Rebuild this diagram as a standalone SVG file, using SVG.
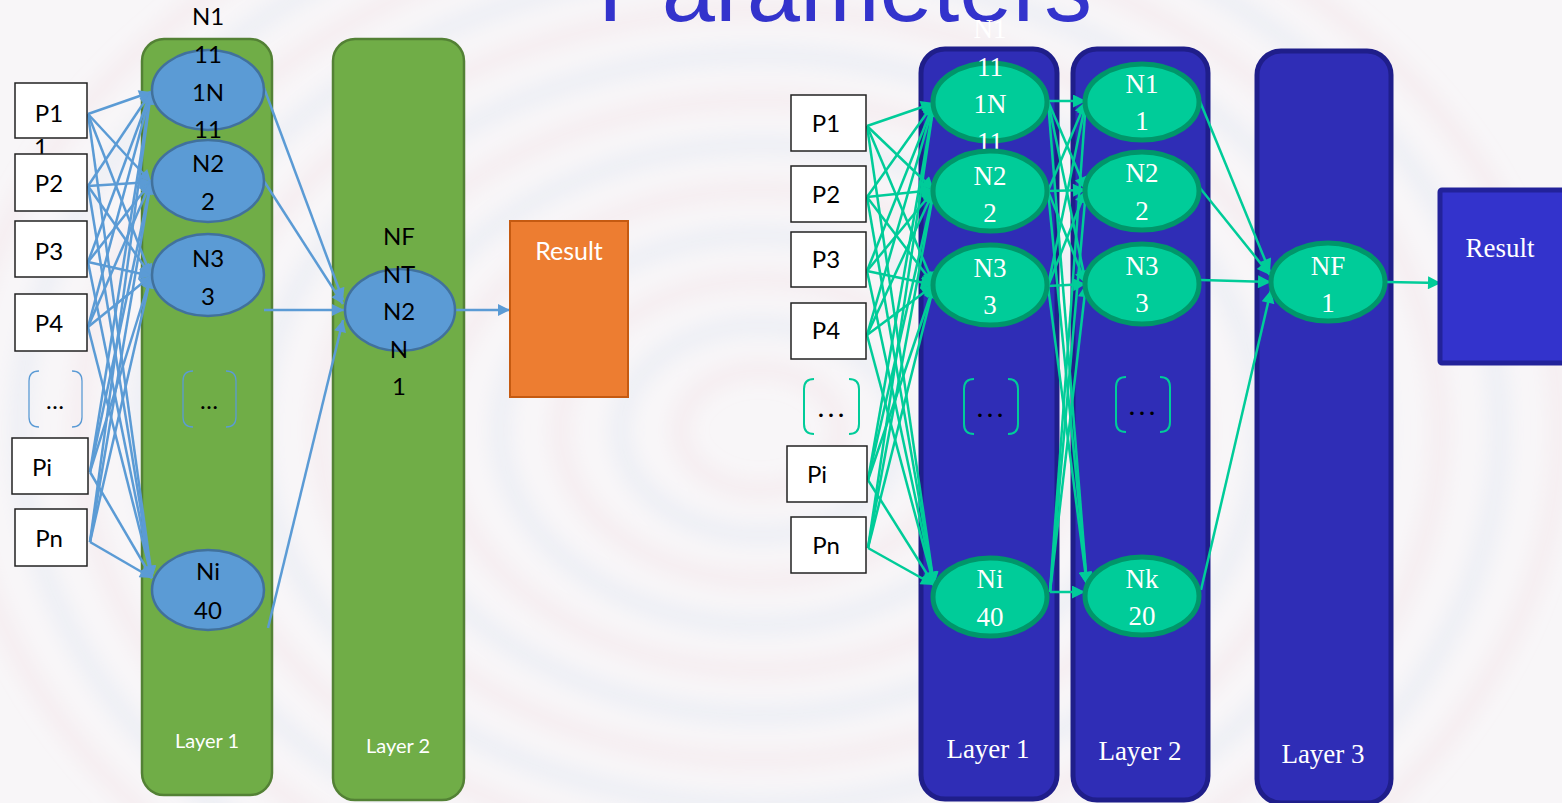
<svg xmlns="http://www.w3.org/2000/svg" width="1562" height="803" viewBox="0 0 1562 803">
<defs>
<filter id="blur" x="-10%" y="-10%" width="120%" height="120%"><feGaussianBlur stdDeviation="10"/></filter>
<marker id="ab" viewBox="0 0 10 10" refX="10" refY="5" markerWidth="15" markerHeight="12" markerUnits="userSpaceOnUse" orient="auto"><path d="M0,0 L10,5 L0,10 z" fill="#5B9BD5"/></marker>
<marker id="ag" viewBox="0 0 10 10" refX="10" refY="5" markerWidth="16" markerHeight="13" markerUnits="userSpaceOnUse" orient="auto"><path d="M0,0 L10,5 L0,10 z" fill="#00CC99"/></marker>
<style>
.gl{fill:#70AD47;stroke:#538135;stroke-width:2.5}
.bl{fill:#2F2DB6;stroke:#1F1E8A;stroke-width:5}
.be{fill:#5B9BD5;stroke:#41719C;stroke-width:2.5}
.ge{fill:#00CC99;stroke:#00966A;stroke-width:5}
.pb{fill:#FFFFFF;stroke:#222222;stroke-width:1.5}
.cb{stroke:#5B9BD5;stroke-width:2.5;fill:none;marker-end:url(#ab)}
.cg{stroke:#00CC99;stroke-width:2.5;fill:none;marker-end:url(#ag)}
.brb{fill:none;stroke:#5B9BD5;stroke-width:1.3}
.brg{fill:none;stroke:#00CC99;stroke-width:2}
.ts{font-family:Lato,"Open Sans","Liberation Sans",sans-serif;font-size:24px;fill:#000;text-anchor:middle}
.tsw{font-family:Lato,"Open Sans","Liberation Sans",sans-serif;fill:#FFFFFF;text-anchor:middle}
.tr{font-family:"Liberation Serif","DejaVu Serif",serif;font-size:27px;fill:#FFFFFF;text-anchor:middle}
.dots{font-family:"Liberation Serif",serif;font-size:30px;fill:#000;text-anchor:middle}
.ring1{fill:none;stroke:#E9C3CE;stroke-width:16;opacity:0.22}
.ring2{fill:none;stroke:#C6D5EA;stroke-width:16;opacity:0.28}
</style>
</defs>
<rect x="0" y="0" width="1562" height="803" fill="#F8F6F8"/>
<g id="background" filter="url(#blur)">
<ellipse class="ring1" cx="760" cy="430" rx="80" ry="60"/>
<ellipse class="ring2" cx="760" cy="430" rx="140" ry="105"/>
<ellipse class="ring1" cx="760" cy="430" rx="200" ry="150"/>
<ellipse class="ring2" cx="760" cy="430" rx="260" ry="195"/>
<ellipse class="ring1" cx="760" cy="430" rx="320" ry="240"/>
<ellipse class="ring2" cx="760" cy="430" rx="380" ry="285"/>
<ellipse class="ring1" cx="760" cy="430" rx="440" ry="330"/>
<ellipse class="ring2" cx="760" cy="430" rx="500" ry="375"/>
<ellipse class="ring1" cx="760" cy="430" rx="560" ry="420"/>
<ellipse class="ring2" cx="760" cy="430" rx="620" ry="465"/>
<ellipse class="ring1" cx="760" cy="430" rx="680" ry="510"/>
<ellipse class="ring2" cx="760" cy="430" rx="740" ry="555"/>
<ellipse class="ring1" cx="760" cy="430" rx="800" ry="600"/>
</g>
<g id="title">
<text x="598" y="21" font-family="Liberation Sans, Arial, sans-serif" font-size="96" fill="#3333CC" textLength="494" lengthAdjust="spacingAndGlyphs">Parameters</text>
</g>

<!-- Left layers -->
<g id="left-layer1"><rect class="gl" x="142" y="39" width="130" height="756" rx="22"/><text class="tsw" x="207" y="748" font-size="20">Layer 1</text></g>
<g id="left-layer2"><rect class="gl" x="333" y="39" width="131" height="761" rx="22"/><text class="tsw" x="398" y="753" font-size="20">Layer 2</text></g>

<!-- Right layers -->
<g id="right-layer1"><rect class="bl" x="921" y="49" width="136" height="750" rx="24"/><text class="tr" x="988" y="758" font-size="26">Layer 1</text></g>
<g id="right-layer2"><rect class="bl" x="1073" y="49" width="135" height="751" rx="24"/><text class="tr" x="1140" y="760" font-size="26">Layer 2</text></g>
<g id="right-layer3"><rect class="bl" x="1257" y="51" width="134" height="752" rx="24"/><text class="tr" x="1323" y="763" font-size="26">Layer 3</text></g>

<g id="connectors">
<!-- left inputs -->
<line class="cb" x1="88" y1="114" x2="151" y2="92"/><line class="cb" x1="88" y1="114" x2="151" y2="182"/><line class="cb" x1="88" y1="114" x2="151" y2="276"/><line class="cb" x1="88" y1="114" x2="152" y2="578"/>
<line class="cb" x1="88" y1="186" x2="151" y2="92"/><line class="cb" x1="88" y1="186" x2="151" y2="182"/><line class="cb" x1="88" y1="186" x2="151" y2="276"/><line class="cb" x1="88" y1="186" x2="152" y2="578"/>
<line class="cb" x1="88" y1="262" x2="151" y2="92"/><line class="cb" x1="88" y1="262" x2="151" y2="182"/><line class="cb" x1="88" y1="262" x2="151" y2="276"/><line class="cb" x1="88" y1="262" x2="152" y2="578"/>
<line class="cb" x1="88" y1="327" x2="151" y2="92"/><line class="cb" x1="88" y1="327" x2="151" y2="182"/><line class="cb" x1="88" y1="327" x2="151" y2="276"/><line class="cb" x1="88" y1="327" x2="152" y2="578"/>
<line class="cb" x1="90" y1="472" x2="151" y2="92"/><line class="cb" x1="90" y1="472" x2="151" y2="182"/><line class="cb" x1="90" y1="472" x2="151" y2="276"/><line class="cb" x1="90" y1="472" x2="152" y2="578"/>
<line class="cb" x1="90" y1="542" x2="151" y2="92"/><line class="cb" x1="90" y1="542" x2="151" y2="182"/><line class="cb" x1="90" y1="542" x2="151" y2="276"/><line class="cb" x1="90" y1="542" x2="152" y2="578"/>
<!-- left layer1 to layer2 -->
<line class="cb" x1="264" y1="88" x2="343" y2="300"/>
<line class="cb" x1="262" y1="178" x2="343" y2="304"/>
<line class="cb" x1="264" y1="310" x2="344" y2="310"/>
<line class="cb" x1="268" y1="628" x2="343" y2="320"/>
<line class="cb" x1="455" y1="310" x2="510" y2="310"/>
<!-- right inputs -->
<line class="cg" x1="867" y1="126" x2="934" y2="103"/><line class="cg" x1="867" y1="126" x2="934" y2="190"/><line class="cg" x1="867" y1="126" x2="934" y2="285"/><line class="cg" x1="867" y1="126" x2="934" y2="585"/>
<line class="cg" x1="867" y1="197" x2="934" y2="103"/><line class="cg" x1="867" y1="197" x2="934" y2="190"/><line class="cg" x1="867" y1="197" x2="934" y2="285"/><line class="cg" x1="867" y1="197" x2="934" y2="585"/>
<line class="cg" x1="867" y1="271" x2="934" y2="103"/><line class="cg" x1="867" y1="271" x2="934" y2="190"/><line class="cg" x1="867" y1="271" x2="934" y2="285"/><line class="cg" x1="867" y1="271" x2="934" y2="585"/>
<line class="cg" x1="867" y1="335" x2="934" y2="103"/><line class="cg" x1="867" y1="335" x2="934" y2="190"/><line class="cg" x1="867" y1="335" x2="934" y2="285"/><line class="cg" x1="867" y1="335" x2="934" y2="585"/>
<line class="cg" x1="868" y1="480" x2="934" y2="103"/><line class="cg" x1="868" y1="480" x2="934" y2="190"/><line class="cg" x1="868" y1="480" x2="934" y2="285"/><line class="cg" x1="868" y1="480" x2="934" y2="585"/>
<line class="cg" x1="868" y1="548" x2="934" y2="103"/><line class="cg" x1="868" y1="548" x2="934" y2="190"/><line class="cg" x1="868" y1="548" x2="934" y2="285"/><line class="cg" x1="868" y1="548" x2="934" y2="585"/>
<!-- right layer1 to layer2 -->
<line class="cg" x1="1048" y1="101" x2="1086" y2="101"/><line class="cg" x1="1048" y1="101" x2="1086" y2="190"/><line class="cg" x1="1048" y1="101" x2="1086" y2="284"/><line class="cg" x1="1048" y1="101" x2="1087" y2="585"/>
<line class="cg" x1="1048" y1="191" x2="1086" y2="101"/><line class="cg" x1="1048" y1="191" x2="1086" y2="190"/><line class="cg" x1="1048" y1="191" x2="1086" y2="284"/><line class="cg" x1="1048" y1="191" x2="1087" y2="585"/>
<line class="cg" x1="1048" y1="286" x2="1086" y2="101"/><line class="cg" x1="1048" y1="286" x2="1086" y2="190"/><line class="cg" x1="1048" y1="286" x2="1086" y2="284"/><line class="cg" x1="1048" y1="286" x2="1087" y2="585"/>
<line class="cg" x1="1050" y1="592" x2="1086" y2="101"/><line class="cg" x1="1050" y1="592" x2="1086" y2="190"/><line class="cg" x1="1050" y1="592" x2="1086" y2="284"/><line class="cg" x1="1050" y1="592" x2="1085" y2="592"/>
<!-- right layer2 to layer3 -->
<line class="cg" x1="1199" y1="99" x2="1270" y2="272"/>
<line class="cg" x1="1200" y1="188" x2="1270" y2="275"/>
<line class="cg" x1="1201" y1="280" x2="1271" y2="282"/>
<line class="cg" x1="1201" y1="590" x2="1271" y2="290"/>
<line class="cg" x1="1387" y1="282" x2="1441" y2="283"/>
</g>

<!-- Left nodes -->
<g id="l-N1"><ellipse class="be" cx="208" cy="90" rx="56" ry="40"/><text class="ts" x="208" y="25">N1</text><text class="ts" x="208" y="63">11</text><text class="ts" x="208" y="101">1N</text><text class="ts" x="208" y="138">11</text></g>
<g id="l-N2"><ellipse class="be" cx="208" cy="181" rx="56" ry="41"/><text class="ts" x="208" y="172">N2</text><text class="ts" x="208" y="210">2</text></g>
<g id="l-N3"><ellipse class="be" cx="208" cy="275" rx="56" ry="41"/><text class="ts" x="208" y="267">N3</text><text class="ts" x="208" y="305">3</text></g>
<g id="l-dots"><path class="brb" d="M193,371 Q183,371 183,381 L183,417 Q183,427 193,427 M226,371 Q236,371 236,381 L236,417 Q236,427 226,427"/><text class="ts" x="209" y="409" font-size="18">…</text></g>
<g id="l-Ni"><ellipse class="be" cx="208" cy="590" rx="56" ry="40"/><text class="ts" x="208" y="580">Ni</text><text class="ts" x="208" y="619">40</text></g>
<g id="l-NF"><ellipse class="be" cx="400" cy="310" rx="55" ry="41"/><text class="ts" x="399" y="245">NF</text><text class="ts" x="399" y="283">NT</text><text class="ts" x="399" y="320">N2</text><text class="ts" x="399" y="358">N</text><text class="ts" x="399" y="395">1</text></g>
<g id="l-result"><rect x="510" y="221" width="118" height="176" fill="#ED7D31" stroke="#C55A11" stroke-width="2"/><text class="tsw" x="569" y="260" font-size="25">Result</text></g>

<!-- Left inputs -->
<g id="l-P1"><rect class="pb" x="15" y="83" width="72" height="55"/><text class="ts" x="49" y="122">P1</text><text class="ts" x="41" y="156">1</text></g>
<g id="l-P2"><rect class="pb" x="15" y="154" width="72" height="57"/><text class="ts" x="49" y="192">P2</text></g>
<g id="l-P3"><rect class="pb" x="15" y="221" width="72" height="56"/><text class="ts" x="49" y="260">P3</text></g>
<g id="l-P4"><rect class="pb" x="15" y="294" width="72" height="57"/><text class="ts" x="49" y="332">P4</text></g>
<g id="l-Pdots"><path class="brb" d="M39,371 Q29,371 29,381 L29,417 Q29,427 39,427 M72,371 Q82,371 82,381 L82,417 Q82,427 72,427"/><text class="ts" x="55" y="409" font-size="18">…</text></g>
<g id="l-Pi"><rect class="pb" x="12" y="438" width="76" height="56"/><text class="ts" x="42" y="476">Pi</text></g>
<g id="l-Pn"><rect class="pb" x="15" y="509" width="72" height="57"/><text class="ts" x="49" y="547">Pn</text></g>

<!-- Right nodes layer 1 -->
<g id="r-N1"><ellipse class="ge" cx="990" cy="102" rx="57" ry="39"/><text class="tr" x="990" y="38">N1</text><text class="tr" x="990" y="76">11</text><text class="tr" x="990" y="113">1N</text><text class="tr" x="990" y="151">11</text></g>
<g id="r-N2"><ellipse class="ge" cx="990" cy="191" rx="57" ry="40"/><text class="tr" x="990" y="185">N2</text><text class="tr" x="990" y="222">2</text></g>
<g id="r-N3"><ellipse class="ge" cx="990" cy="285" rx="57" ry="40"/><text class="tr" x="990" y="277">N3</text><text class="tr" x="990" y="314">3</text></g>
<g id="r-dots1"><path class="brg" d="M974,379 Q964,379 964,389 L964,424 Q964,434 974,434 M1008,379 Q1018,379 1018,389 L1018,424 Q1018,434 1008,434"/><text class="dots" x="991" y="417" letter-spacing="2">…</text></g>
<g id="r-Ni"><ellipse class="ge" cx="990" cy="597" rx="57" ry="39"/><text class="tr" x="990" y="588">Ni</text><text class="tr" x="990" y="626">40</text></g>

<!-- Right nodes layer 2 -->
<g id="r-L2N1"><ellipse class="ge" cx="1142" cy="102" rx="57" ry="38"/><text class="tr" x="1142" y="93">N1</text><text class="tr" x="1142" y="130">1</text></g>
<g id="r-L2N2"><ellipse class="ge" cx="1142" cy="191" rx="57" ry="39"/><text class="tr" x="1142" y="182">N2</text><text class="tr" x="1142" y="220">2</text></g>
<g id="r-L2N3"><ellipse class="ge" cx="1142" cy="284" rx="57" ry="40"/><text class="tr" x="1142" y="275">N3</text><text class="tr" x="1142" y="312">3</text></g>
<g id="r-dots2"><path class="brg" d="M1126,377 Q1116,377 1116,387 L1116,422 Q1116,432 1126,432 M1160,377 Q1170,377 1170,387 L1170,422 Q1170,432 1160,432 "/><text class="dots" x="1143" y="415" letter-spacing="2">…</text></g>
<g id="r-Nk"><ellipse class="ge" cx="1142" cy="596" rx="57" ry="39"/><text class="tr" x="1142" y="588">Nk</text><text class="tr" x="1142" y="625">20</text></g>

<!-- Right layer 3 -->
<g id="r-NF"><ellipse class="ge" cx="1328" cy="282" rx="57" ry="39"/><text class="tr" x="1328" y="275">NF</text><text class="tr" x="1328" y="312">1</text></g>
<g id="r-result"><rect x="1440" y="190" width="126" height="173" fill="#3333CC" stroke="#22229A" stroke-width="5" rx="2"/><text class="tr" x="1500" y="257" font-size="28">Result</text></g>

<!-- Right inputs -->
<g id="r-P1"><rect class="pb" x="791" y="95" width="75" height="56"/><text class="ts" x="826" y="132">P1</text></g>
<g id="r-P2"><rect class="pb" x="791" y="166" width="75" height="56"/><text class="ts" x="826" y="203">P2</text></g>
<g id="r-P3"><rect class="pb" x="791" y="232" width="75" height="55"/><text class="ts" x="826" y="268">P3</text></g>
<g id="r-P4"><rect class="pb" x="791" y="303" width="75" height="56"/><text class="ts" x="826" y="339">P4</text></g>
<g id="r-Pdots"><path class="brg" d="M814,379 Q804,379 804,389 L804,424 Q804,434 814,434 M849,379 Q859,379 859,389 L859,424 Q859,434 849,434"/><text class="dots" x="832" y="417" letter-spacing="2">…</text></g>
<g id="r-Pi"><rect class="pb" x="787" y="446" width="80" height="56"/><text class="ts" x="817" y="483">Pi</text></g>
<g id="r-Pn"><rect class="pb" x="791" y="517" width="75" height="56"/><text class="ts" x="826" y="554">Pn</text></g>
</svg>
